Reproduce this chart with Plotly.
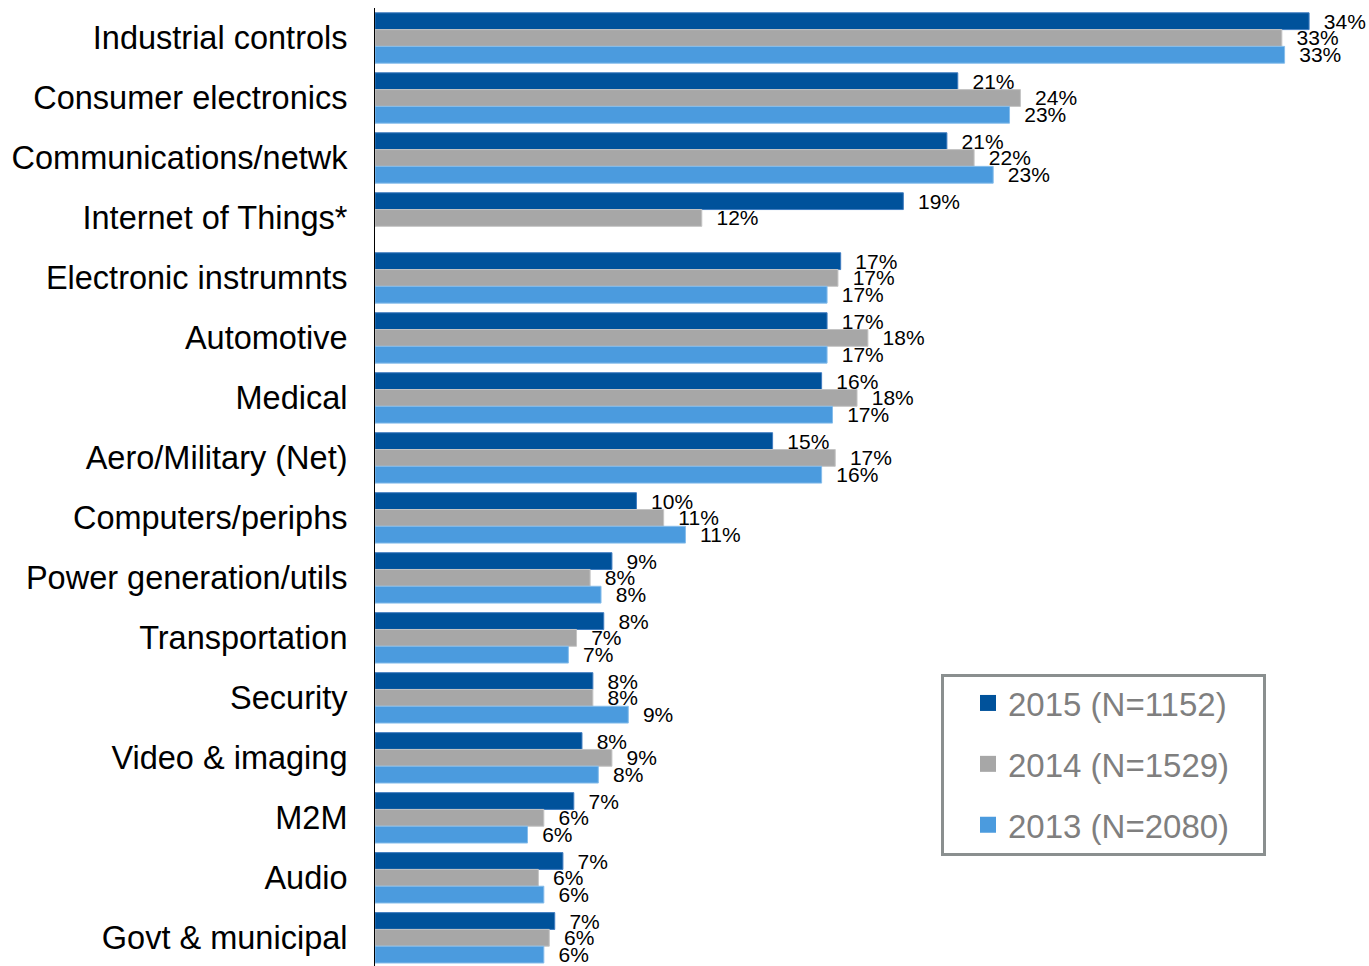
import plotly.graph_objects as go

categories = [
    "Industrial controls", "Consumer electronics", "Communications/netwk",
    "Internet of Things*", "Electronic instrumnts", "Automotive", "Medical",
    "Aero/Military (Net)", "Computers/periphs", "Power generation/utils",
    "Transportation", "Security", "Video & imaging", "M2M", "Audio",
    "Govt & municipal",
]

share_2015 = [34.3, 21.4, 21.0, 19.4, 17.1, 16.6, 16.4, 14.6, 9.6, 8.7, 8.4, 8.0, 7.6, 7.3, 6.9, 6.6]
share_2014 = [33.3, 23.7, 22.0, 12.0, 17.0, 18.1, 17.7, 16.9, 10.6, 7.9, 7.4, 8.0, 8.7, 6.2, 6.0, 6.4]
share_2013 = [33.4, 23.3, 22.7, None, 16.6, 16.6, 16.8, 16.4, 11.4, 8.3, 7.1, 9.3, 8.2, 5.6, 6.2, 6.2]

series_names = ["2015 (N=1152)", "2014 (N=1529)", "2013 (N=2080)"]
series_values = [share_2015, share_2014, share_2013]
series_colors = ["#00529B", "#A7A7A7", "#4B9BDE"]
edge_colors = ["#3F7CC0", "#C4C4C4", "#86BDEB"]

FONT = "Liberation Sans, Arial, sans-serif"

W, H = 1369, 966
L, T = 375, 8
plot_w, plot_h = W - L, H - T

fig = go.Figure()

for name, vals, col, edge in zip(series_names, series_values, series_colors, edge_colors):
    fig.add_trace(go.Bar(
        y=categories, x=vals, orientation="h", name=name,
        marker=dict(color=col, line=dict(color=edge, width=1)),
        texttemplate="\u00a0\u00a0%{x:.0f}%", textposition="outside",
        outsidetextfont=dict(family=FONT, size=21, color="#000000"),
        constraintext="none", cliponaxis=False,
        showlegend=False, hoverinfo="x+y",
    ))

# legend entries with larger square swatches
for i, (name, col) in enumerate(zip(series_names, series_colors)):
    fig.add_trace(go.Scatter(
        x=[None], y=[None], mode="markers", name=name,
        marker=dict(symbol="square", size=17, color=col),
        legendgroup=f"g{i}", showlegend=True,
    ))


def px_x(p):
    return (p - L) / plot_w


def px_y(p):
    return (H - p) / plot_h


fig.add_shape(
    type="rect", xref="paper", yref="paper",
    x0=px_x(942.5), x1=px_x(1264.5), y0=px_y(854.5), y1=px_y(675.5),
    line=dict(color="#8A8F8F", width=3), fillcolor="rgba(0,0,0,0)",
)

fig.update_layout(
    template="none",
    width=W, height=H,
    margin=dict(l=L, r=0, t=T, b=0, autoexpand=False),
    paper_bgcolor="white", plot_bgcolor="white",
    barmode="group", bargap=0.16, bargroupgap=0,
    font=dict(family=FONT, color="#000000"),
    showlegend=True,
    legend=dict(
        x=px_x(968), xanchor="left", y=px_y(675), yanchor="top",
        font=dict(family=FONT, size=33, color="#7F7F7F"),
        bgcolor="rgba(0,0,0,0)", borderwidth=0,
        traceorder="grouped", tracegroupgap=15,
    ),
    xaxis=dict(
        range=[0, 36.5], showgrid=False, zeroline=False, showline=False,
        showticklabels=False, ticks="", automargin=False, fixedrange=True,
    ),
    yaxis=dict(
        type="category", range=[15.47, -0.5], showgrid=False, zeroline=False,
        showline=True, linecolor="#000000", linewidth=1, ticks="",
        tickfont=dict(family=FONT, size=32.5, color="#000000"),
        ticklabelstandoff=20, automargin=False, fixedrange=True,
    ),
)

fig.write_html("out.html")
